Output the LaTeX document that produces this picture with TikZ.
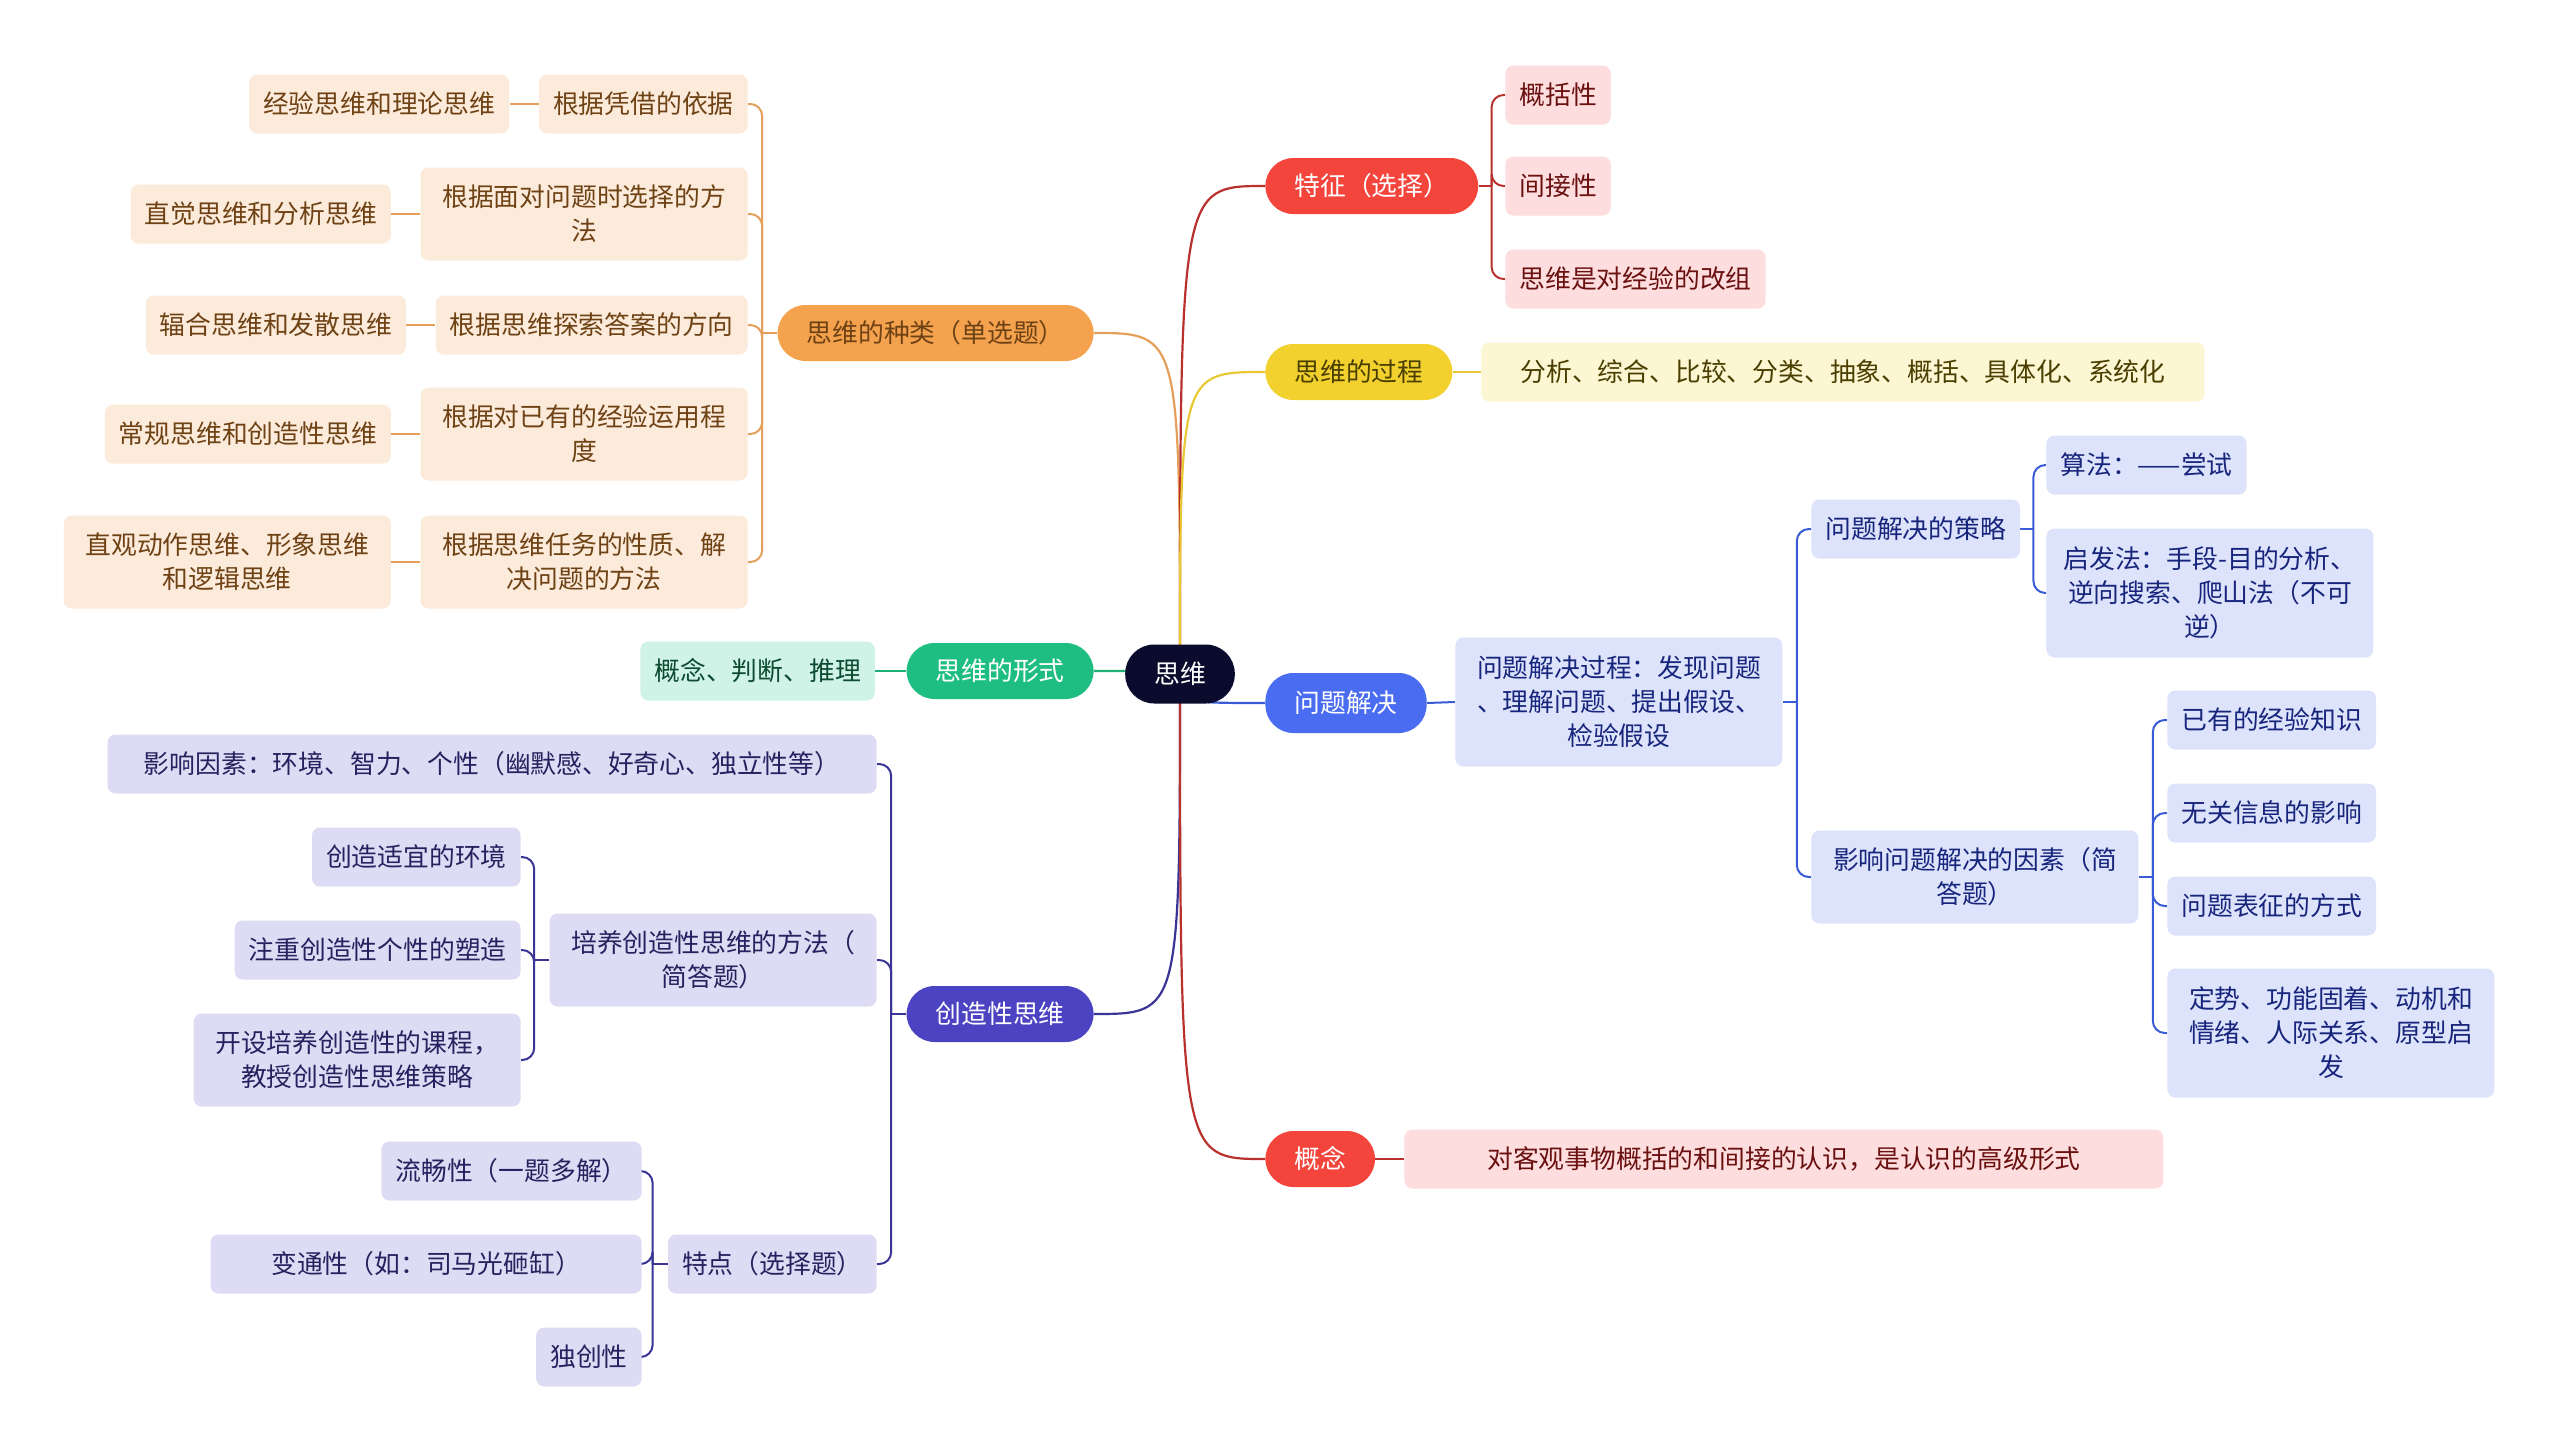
\documentclass[tikz,border=0pt]{standalone}
\usepackage{fontspec}
\newfontfamily\cjk{Noto Sans CJK SC}
\usetikzlibrary{positioning,backgrounds}
\definecolor{rootnavy}{HTML}{0B0B2E}
\definecolor{redmain}{HTML}{F4453D}
\definecolor{redline}{HTML}{B8312D}
\definecolor{redpale}{HTML}{FDDDDD}
\definecolor{redtext}{HTML}{6A1010}
\definecolor{orangemain}{HTML}{F4A24E}
\definecolor{orangeline}{HTML}{E4A05A}
\definecolor{orangepale}{HTML}{FCEBDB}
\definecolor{orangetext}{HTML}{6E4214}
\definecolor{yellowmain}{HTML}{F2D12E}
\definecolor{yellowline}{HTML}{E8C935}
\definecolor{yellowpale}{HTML}{FCF6D3}
\definecolor{yellowtext}{HTML}{4A3F00}
\definecolor{bluemain}{HTML}{4A6CF0}
\definecolor{blueline}{HTML}{3A5BD6}
\definecolor{bluepale}{HTML}{DCE3FB}
\definecolor{bluetext}{HTML}{18257C}
\definecolor{greenmain}{HTML}{1EBE82}
\definecolor{greenline}{HTML}{1FB077}
\definecolor{greenpale}{HTML}{CFF3E6}
\definecolor{greentext}{HTML}{0D4A32}
\definecolor{indigomain}{HTML}{4B43C2}
\definecolor{indigoline}{HTML}{3A3497}
\definecolor{indigopale}{HTML}{DEDCF4}
\definecolor{indigotext}{HTML}{28215F}
\tikzset{
  mmtext/.style={font=\cjk\fontsize{12.9}{17}\selectfont, align=center},
  mmroot/.style={mmtext, fill=rootnavy, text=white, rounded corners=14.5pt, minimum height=29.5pt, inner xsep=14.5pt},
  mmmain/.style={mmtext, fill=#1main, text=white, rounded corners=14pt, minimum height=28pt, inner xsep=14.5pt},
  mmleaf/.style={mmtext, fill=#1pale, text=#1text, rounded corners=4pt, minimum height=29.5pt, inner xsep=7pt},
  twoline/.style={minimum height=46.5pt, minimum width=163.5pt},
  threeline/.style={minimum height=64.5pt, minimum width=163.5pt},
  rootlink/.style={draw=#1line, line width=1.1pt},
  mmlink/.style={draw=#1line, line width=1pt, rounded corners=6pt},
}
\begin{document}
\begin{tikzpicture}[x=0.5pt, y=-0.5pt]
\useasboundingbox (0,0) rectangle (2560,1451);
\node[mmroot] (root) at (1180,674) {思维};
% right side
\node[mmmain=red, anchor=west] (trait) at (1265,186) {特征（选择）};
\node[mmmain=yellow, text=yellowtext, anchor=west] (proc) at (1265,372) {思维的过程};
\node[mmmain=blue, anchor=west, minimum height=30pt] (solve) at (1265,703) {问题解决};
\node[mmmain=red, anchor=west] (concept) at (1265,1159) {概念};
\node[mmleaf=red, anchor=west] (trait1) at (1505,95) {概括性};
\node[mmleaf=red, anchor=west] (trait2) at (1505,186) {间接性};
\node[mmleaf=red, anchor=west] (trait3) at (1505,279) {思维是对经验的改组};
\node[mmleaf=yellow, anchor=west, minimum width=361.5pt] (proc1) at (1481,372) {分析、综合、比较、分类、抽象、概括、具体化、系统化};
\node[mmleaf=blue, threeline, anchor=west] (solve1) at (1455,702) {问题解决过程：发现问题\\、理解问题、提出假设、\\检验假设};
\node[mmleaf=blue, anchor=west] (strat) at (1811,529) {问题解决的策略};
\node[mmleaf=blue, twoline, anchor=west] (factor) at (1811,877) {影响问题解决的因素（简\\答题）};
\node[mmleaf=blue, anchor=west] (strat1) at (2046,465) {算法：——尝试};
\node[mmleaf=blue, threeline, anchor=west] (strat2) at (2046,593) {启发法：手段-目的分析、\\逆向搜索、爬山法（不可\\逆）};
\node[mmleaf=blue, anchor=west] (factor1) at (2167,720) {已有的经验知识};
\node[mmleaf=blue, anchor=west] (factor2) at (2167,813) {无关信息的影响};
\node[mmleaf=blue, anchor=west] (factor3) at (2167,906) {问题表征的方式};
\node[mmleaf=blue, threeline, anchor=west] (factor4) at (2167,1033) {定势、功能固着、动机和\\情绪、人际关系、原型启\\发};
\node[mmleaf=red, anchor=west, minimum width=379.5pt] (concept1) at (1404,1159) {对客观事物概括的和间接的认识，是认识的高级形式};
% left side
\node[mmmain=orange, text=orangetext, anchor=east] (kinds) at (1094,333) {思维的种类（单选题）};
\node[mmmain=green, anchor=east] (form) at (1094,671) {思维的形式};
\node[mmmain=indigo, anchor=east] (creat) at (1094,1014) {创造性思维};
\node[mmleaf=orange, anchor=east] (kind1) at (748,104) {根据凭借的依据};
\node[mmleaf=orange, twoline, anchor=east] (kind2) at (748,214) {根据面对问题时选择的方\\法};
\node[mmleaf=orange, anchor=east] (kind3) at (748,325) {根据思维探索答案的方向};
\node[mmleaf=orange, twoline, anchor=east] (kind4) at (748,434) {根据对已有的经验运用程\\度};
\node[mmleaf=orange, twoline, anchor=east] (kind5) at (748,562) {根据思维任务的性质、解\\决问题的方法};
\node[mmleaf=orange, left=14.5pt of kind1] (type1) {经验思维和理论思维};
\node[mmleaf=orange, left=14.5pt of kind2] (type2) {直觉思维和分析思维};
\node[mmleaf=orange, left=14.5pt of kind3] (type3) {辐合思维和发散思维};
\node[mmleaf=orange, left=14.5pt of kind4] (type4) {常规思维和创造性思维};
\node[mmleaf=orange, twoline, left=14.5pt of kind5] (type5) {直观动作思维、形象思维\\和逻辑思维};
\node[mmleaf=green, left=15.5pt of form] (form1) {概念、判断、推理};
\node[mmleaf=indigo, anchor=east, minimum width=384.5pt] (cr1) at (877,764) {影响因素：环境、智力、个性（幽默感、好奇心、独立性等）};
\node[mmleaf=indigo, twoline, anchor=east] (cr2) at (877,960) {培养创造性思维的方法（\\简答题）};
\node[mmleaf=indigo, anchor=east] (cr3) at (877,1264) {特点（选择题）};
\node[mmleaf=indigo, anchor=east] (way1) at (521,857) {创造适宜的环境};
\node[mmleaf=indigo, anchor=east] (way2) at (521,950) {注重创造性个性的塑造};
\node[mmleaf=indigo, twoline, anchor=east] (way3) at (521,1060) {开设培养创造性的课程，\\教授创造性思维策略};
\node[mmleaf=indigo, anchor=east] (feat1) at (642,1171) {流畅性（一题多解）};
\node[mmleaf=indigo, anchor=east, minimum width=215.5pt] (feat2) at (642,1264) {变通性（如：司马光砸缸）};
\node[mmleaf=indigo, anchor=east] (feat3) at (642,1357) {独创性};
\begin{pgfonlayer}{background}
\fill[white] (0,0) rectangle (2560,1451);
% branches from the root
\draw[rootlink=orange] (root.center) .. controls (root.center |- kinds.east) .. (kinds.east);
\draw[rootlink=red] (root.center) .. controls (root.center |- trait.west) .. (trait.west);
\draw[rootlink=yellow] (root.center) .. controls (root.center |- proc.west) .. (proc.west);
\draw[rootlink=blue] (root.center) .. controls (root.center |- solve.west) .. (solve.west);
\draw[rootlink=green] (root.center) .. controls (root.center |- form.east) .. (form.east);
\draw[rootlink=indigo] (root.center) .. controls (root.center |- creat.east) .. (creat.east);
\draw[rootlink=red] (root.center) .. controls (root.center |- concept.west) .. (concept.west);
% right brackets
\draw[mmlink=red] (trait.east) -- ++(13,0) coordinate (tj);
\foreach \c in {trait1,trait2,trait3} \draw[mmlink=red] (tj) |- (\c.west);
\draw[mmlink=yellow] (proc.east) -- (proc1.west);
\draw[mmlink=blue] (solve.east) -- (solve1.west);
\draw[mmlink=blue] (solve1.east) -- ++(14,0) coordinate (sj);
\foreach \c in {strat,factor} \draw[mmlink=blue] (sj) |- (\c.west);
\draw[mmlink=blue] (strat.east) -- ++(13,0) coordinate (aj);
\foreach \c in {strat1,strat2} \draw[mmlink=blue] (aj) |- (\c.west);
\draw[mmlink=blue] (factor.east) -- ++(14,0) coordinate (fj);
\foreach \c in {factor1,factor2,factor3,factor4} \draw[mmlink=blue] (fj) |- (\c.west);
\draw[mmlink=red] (concept.east) -- (concept1.west);
% left brackets
\draw[mmlink=orange] (kinds.west) -- ++(-15,0) coordinate (kj);
\foreach \c in {kind1,kind2,kind3,kind4,kind5} \draw[mmlink=orange] (kj) |- (\c.east);
\foreach \i in {1,...,5} \draw[mmlink=orange] (kind\i.west) -- (type\i.east);
\draw[mmlink=green] (form.west) -- (form1.east);
\draw[mmlink=indigo] (creat.west) -- ++(-15,0) coordinate (cj);
\foreach \c in {cr1,cr2,cr3} \draw[mmlink=indigo] (cj) |- (\c.east);
\draw[mmlink=indigo] (cr2.west) -- ++(-15,0) coordinate (wj);
\foreach \c in {way1,way2,way3} \draw[mmlink=indigo] (wj) |- (\c.east);
\draw[mmlink=indigo] (cr3.west) -- ++(-15,0) coordinate (pj);
\foreach \c in {feat1,feat2,feat3} \draw[mmlink=indigo] (pj) |- (\c.east);
\end{pgfonlayer}
\end{tikzpicture}
\end{document}
